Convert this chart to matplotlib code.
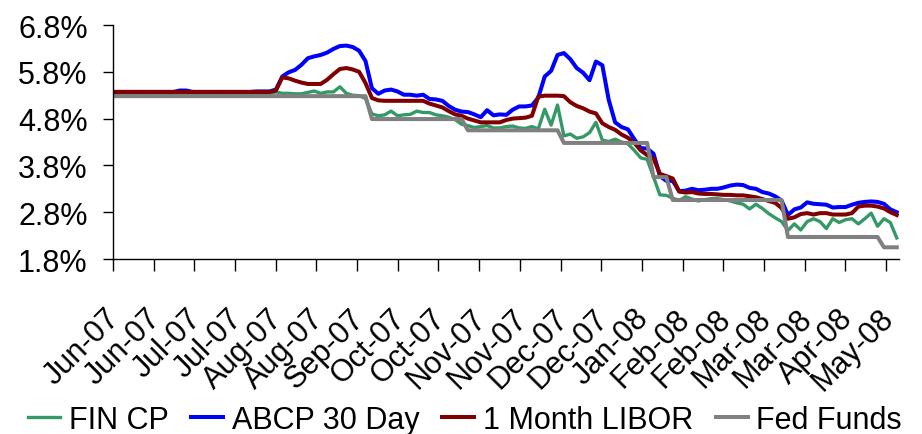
import numpy as np
import matplotlib
matplotlib.use("Agg")
import matplotlib.pyplot as plt
import matplotlib.transforms as mtransforms
from matplotlib.ticker import FuncFormatter

# business-day index (Jun 1 2007 = 0), sampled every 2 business days
day = np.arange(-2, 243, 2)

tick_labels = ["Jun-07", "Jun-07", "Jul-07", "Jul-07", "Aug-07", "Aug-07", "Sep-07",
               "Oct-07", "Oct-07", "Nov-07", "Nov-07", "Dec-07", "Dec-07", "Jan-08",
               "Feb-08", "Feb-08", "Mar-08", "Mar-08", "Apr-08", "May-08"]

fin_cp = [5.33] * 25 + [
    5.37, 5.34, 5.34, 5.33, 5.33, 5.36, 5.39, 5.34, 5.37, 5.37,
    5.48, 5.34, 5.30, 5.29, 5.23, 4.90, 4.86, 4.88, 4.96, 4.86,
    4.88, 4.89, 4.96, 4.93, 4.93, 4.88, 4.86, 4.83, 4.78, 4.68,
    4.65, 4.61, 4.63, 4.65, 4.60, 4.60, 4.63, 4.64, 4.60, 4.59,
    4.63, 4.58, 5.00, 4.66, 5.09, 4.43, 4.47, 4.38, 4.41, 4.50,
    4.72, 4.34, 4.31, 4.36, 4.30, 4.26, 4.12, 3.96, 3.93, 3.55,
    3.17, 3.16, 3.10, 3.05, 3.13, 3.08, 3.04, 3.07, 3.09, 3.09,
    3.07, 3.04, 3.00, 2.97, 2.87, 2.97, 2.88, 2.77, 2.68, 2.60,
    2.41, 2.55, 2.42, 2.60, 2.66, 2.60, 2.45, 2.66, 2.58, 2.64,
    2.66, 2.55, 2.66, 2.78, 2.50, 2.66, 2.58, 2.25]

abcp_30 = [5.37] * 10 + [5.40, 5.40] + [5.37] * 10 + [5.38, 5.38, 5.38] + [
    5.42, 5.70, 5.79, 5.84, 5.95, 6.09, 6.13, 6.16, 6.21, 6.29,
    6.35, 6.36, 6.33, 6.25, 6.03, 5.45, 5.33, 5.40, 5.42, 5.38,
    5.31, 5.31, 5.29, 5.31, 5.22, 5.21, 5.18, 5.07, 4.99, 4.95,
    4.94, 4.89, 4.83, 4.98, 4.87, 4.89, 4.88, 4.99, 5.06, 5.06,
    5.08, 5.25, 5.70, 5.82, 6.16, 6.20, 6.07, 5.88, 5.78, 5.62,
    6.02, 5.94, 5.20, 4.72, 4.62, 4.57, 4.36, 4.17, 4.16, 4.05,
    3.57, 3.47, 3.47, 3.25, 3.26, 3.30, 3.27, 3.28, 3.30, 3.30,
    3.33, 3.37, 3.39, 3.38, 3.32, 3.30, 3.23, 3.20, 3.14, 3.05,
    2.74, 2.86, 2.90, 3.01, 2.98, 2.97, 2.96, 2.90, 2.91, 2.91,
    2.96, 3.00, 3.02, 3.03, 3.02, 2.98, 2.86, 2.80]

libor_1m = [5.37] * 25 + [
    5.40, 5.68, 5.66, 5.61, 5.57, 5.54, 5.54, 5.54, 5.63, 5.75,
    5.86, 5.88, 5.85, 5.80, 5.56, 5.24, 5.19, 5.18, 5.18, 5.18,
    5.18, 5.18, 5.18, 5.18, 5.12, 5.08, 5.04, 4.96, 4.89, 4.86,
    4.80, 4.76, 4.72, 4.72, 4.72, 4.72, 4.77, 4.80, 4.81, 4.82,
    4.86, 5.27, 5.29, 5.29, 5.29, 5.28, 5.15, 5.07, 5.02, 4.95,
    4.91, 4.70, 4.62, 4.56, 4.46, 4.39, 4.28, 4.12, 4.02, 3.95,
    3.62, 3.57, 3.52, 3.24, 3.22, 3.23, 3.20, 3.19, 3.19, 3.18,
    3.17, 3.17, 3.16, 3.16, 3.14, 3.12, 3.08, 3.04, 3.00, 2.89,
    2.66, 2.69, 2.76, 2.78, 2.75, 2.78, 2.78, 2.75, 2.75, 2.75,
    2.78, 2.92, 2.94, 2.94, 2.92, 2.88, 2.80, 2.74]

fed_funds = ([5.28] * 40 + [4.79] * 15 + [4.55] * 15 + [4.28] * 14 +
             [3.55] * 3 + [3.06] * 18 + [2.27] * 15 + [2.05] * 3)

series_names = ["FIN CP", "ABCP 30 Day", "1 Month LIBOR", "Fed Funds"]
series_vals = [fin_cp, abcp_30, libor_1m, fed_funds]
colors = ["#339966", "#0000FF", "#800000", "#808080"]
widths = [2.4, 2.9, 2.9, 2.9]

plt.rcParams['font.family'] = ['Liberation Sans', 'DejaVu Sans']

fig = plt.figure(figsize=(9.22, 4.35), dpi=100)
ax = fig.add_axes([113 / 922, 1 - 260 / 435, (899 - 113) / 922, (260 - 26) / 435])

for name, vals, c, w in zip(series_names, series_vals, colors, widths):
    ax.plot(day, vals, color=c, lw=w, label=name, solid_joinstyle='round')

ax.set_ylim(1.8, 6.8)
ax.set_yticks(np.arange(1.8, 6.81, 1.0))
ax.yaxis.set_major_formatter(FuncFormatter(lambda v, p: f"{v:.1f}%"))

x0 = -2.9
x1 = 242.7
ax.set_xlim(x0, x1)
tick_pos = x0 + 12.712 * np.arange(len(tick_labels))
ax.set_xticks(tick_pos)
ax.set_xticklabels(tick_labels)

for s in ["top", "right"]:
    ax.spines[s].set_visible(False)
for s in ["left", "bottom"]:
    ax.spines[s].set_linewidth(1.0)
    ax.spines[s].set_color("black")

ax.tick_params(axis='y', direction='out', length=7.2, width=1.0, labelsize=22, pad=11)
ax.tick_params(axis='x', direction='out', length=8.6, width=1.0, labelsize=22, pad=23)

offset = mtransforms.ScaledTranslation(-8 / 100, 0, fig.dpi_scale_trans)
for lab in ax.get_xticklabels():
    lab.set_rotation(45)
    lab.set_ha('right')
    lab.set_va('top')
    lab.set_rotation_mode('anchor')
    lab.set_transform(lab.get_transform() + offset)

fig.legend(loc='center', bbox_to_anchor=(465 / 922, 14 / 435), ncol=4, frameon=False,
           fontsize=22, handlelength=1.05, handletextpad=0.27, columnspacing=0.75,
           borderpad=0, borderaxespad=0)

fig.savefig("out.png", dpi=100)
